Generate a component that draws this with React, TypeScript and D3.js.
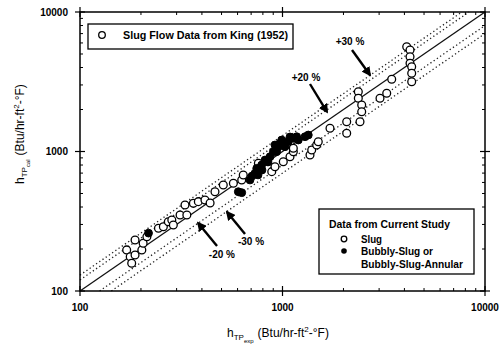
import React from 'react';
import * as d3 from 'd3';

// experimental vs calculated h_TP, Btu/hr-ft2-F
const kingExp = [170, 177, 180, 187, 187, 202, 205, 214, 244, 258, 273, 284, 289, 312, 337, 330, 363, 384, 414, 439, 464, 510, 572, 629, 640, 760, 885, 918, 1009, 1089, 1131, 1131, 1367, 1394, 1475, 1502, 1716, 2075, 2075, 2414, 2368, 2368, 2461, 2461, 3030, 3271, 3462, 4106, 4263, 4263, 4263, 4345, 4345, 4345];
const kingCal = [197, 176, 158, 232, 181, 197, 220, 245, 282, 289, 314, 323, 297, 351, 351, 414, 425, 437, 449, 427, 515, 575, 592, 625, 679, 823, 717, 778, 845, 918, 997, 1054, 944, 1025, 1113, 1176, 1467, 1636, 1350, 1636, 2683, 2407, 2154, 1929, 2407, 2614, 3293, 5640, 5341, 4782, 4289, 4055, 3636, 3165];

const bubblyExp = [218, 605, 629, 691, 731, 746, 789, 820, 868, 901, 954, 972, 1029, 1068, 1131, 1175, 991, 1197, 1292, 1341, 936, 792, 848, 707, 757, 918, 1089];
const bubblyCal = [260, 515, 507, 625, 698, 758, 800, 869, 918, 997, 1082, 1145, 1082, 1176, 1243, 1277, 1209, 1209, 1277, 1313, 997, 737, 841, 667, 679, 1113, 1271];

const bandFactors = [1.3, 1.2, 0.8, 0.7];
const ticksMajor = [100, 1000, 10000];

const noteLabels = ['+30 %', '+20 %', '-20 %', '-30 %'];
const noteTextX = [2154, 1306, 502, 699];
const noteTextY = [6194, 3365, 184, 225];
const noteFromX = [2204, 1367, 475, 653];
const noteFromY = [5341, 3047, 210, 256];
const noteToX = [2704, 1659, 383, 532];
const noteToY = [3535, 1920, 307, 368];

const W = 501;
const H = 344;
const font = '"Liberation Sans", Arial, sans-serif';

export default function App() {
  const x = d3.scaleLog().domain([100, 10000]).range([80, 485]);
  const y = d3.scaleLog().domain([100, 10000]).range([291, 12]);
  const minor = x.ticks().filter(t => !ticksMajor.includes(t));
  const line = d3.line<number>().x(v => x(v)).y(v => y(v));
  const xs = [100, 10000];

  const band = (f: number) => {
    const x0 = Math.max(100, 100 / f);
    const x1 = Math.min(10000, 10000 / f);
    return `M${x(x0)},${y(x0 * f)}L${x(x1)},${y(x1 * f)}`;
  };

  return (
    <svg width={W} height={H} style={{ position: 'absolute', left: 0, top: 0, background: '#fff' }} fontFamily={font}>
      <defs>
        <marker id="ah" viewBox="0 0 10 10" refX="8" refY="5" markerWidth="4" markerHeight="4" orient="auto" markerUnits="strokeWidth">
          <path d="M0,0L10,5L0,10z" fill="#000" />
        </marker>
      </defs>

      {/* reference lines */}
      <path d={line(xs) ?? ''} stroke="#111" strokeWidth={1.3} fill="none" />
      {bandFactors.map(f => (
        <path key={f} d={band(f)} stroke="#222" strokeWidth={1.3} strokeDasharray="1.3 2.6" fill="none" />
      ))}

      {/* frame */}
      <rect x={80} y={12} width={405} height={279} fill="none" stroke="#000" strokeWidth={1.5} />

      {/* ticks */}
      {minor.map(t => (
        <g key={'m' + t} stroke="#000" strokeWidth={1}>
          <line x1={x(t)} x2={x(t)} y1={291} y2={288} />
          <line x1={x(t)} x2={x(t)} y1={12} y2={15} />
          <line y1={y(t)} y2={y(t)} x1={80} x2={83} />
          <line y1={y(t)} y2={y(t)} x1={485} x2={482} />
        </g>
      ))}
      {ticksMajor.map(t => (
        <g key={'M' + t} stroke="#000" strokeWidth={1.2}>
          <line x1={x(t)} x2={x(t)} y1={296} y2={286} />
          <line x1={x(t)} x2={x(t)} y1={7} y2={17} />
          <line y1={y(t)} y2={y(t)} x1={75} x2={85} />
          <line y1={y(t)} y2={y(t)} x1={480} x2={490} />
        </g>
      ))}

      {/* tick labels */}
      {ticksMajor.map(t => (
        <text key={'yl' + t} x={68} y={y(t)} dy="0.35em" textAnchor="end" fontSize={10} fontWeight="bold">{t}</text>
      ))}
      {ticksMajor.map(t => (
        <text key={'xl' + t} x={x(t)} y={307} dy="0.35em" textAnchor="middle" fontSize={10} fontWeight="bold">{t}</text>
      ))}

      {/* data */}
      {kingExp.map((v, i) => (
        <circle key={'k' + i} cx={x(v)} cy={y(kingCal[i])} r={3.9} fill="#fff" stroke="#000" strokeWidth={1.3} />
      ))}
      {bubblyExp.map((v, i) => (
        <circle key={'b' + i} cx={x(v)} cy={y(bubblyCal[i])} r={3.9} fill="#000" stroke="#000" strokeWidth={1} />
      ))}

      {/* annotations */}
      {noteLabels.map((s, i) => (
        <g key={s}>
          <line x1={x(noteFromX[i])} y1={y(noteFromY[i])} x2={x(noteToX[i])} y2={y(noteToY[i])} stroke="#000" strokeWidth={2.4} markerEnd="url(#ah)" />
          <text x={x(noteTextX[i])} y={y(noteTextY[i])} dy="0.35em" textAnchor="middle" fontSize={10} fontWeight="bold">{s}</text>
        </g>
      ))}

      {/* legend: King */}
      <rect x={88} y={24} width={205} height={25} fill="#fff" stroke="#000" strokeWidth={1.3} />
      <circle cx={102} cy={35} r={3.3} fill="#fff" stroke="#000" strokeWidth={1.3} />
      <text x={123} y={39} fontSize={10.5} fontWeight="bold" textLength={165} lengthAdjust="spacingAndGlyphs">Slug Flow Data from King (1952)</text>

      {/* legend: current study */}
      <rect x={319} y={209} width={155} height={65} fill="#fff" stroke="#000" strokeWidth={1.3} />
      <text x={329} y={228} fontSize={10.5} fontWeight="bold" textLength={121} lengthAdjust="spacingAndGlyphs">Data from Current Study</text>
      <circle cx={344} cy={239} r={2.8} fill="#fff" stroke="#000" strokeWidth={1.3} />
      <text x={361} y={242.5} fontSize={10.5} fontWeight="bold" textLength={21} lengthAdjust="spacingAndGlyphs">Slug</text>
      <circle cx={344} cy={251} r={2.8} fill="#000" />
      <text x={361} y={255} fontSize={10.5} fontWeight="bold" textLength={72} lengthAdjust="spacingAndGlyphs">Bubbly-Slug or</text>
      <text x={361} y={268} fontSize={10.5} fontWeight="bold" textLength={102} lengthAdjust="spacingAndGlyphs">Bubbly-Slug-Annular</text>

      {/* axis titles */}
      <text x={227} y={337} fontSize={12}>
        h<tspan fontSize={8} dy={3}>TP</tspan><tspan fontSize={6} dy={3}>exp</tspan>
        <tspan fontSize={12} dy={-6} dx={4}>(Btu/hr-ft</tspan><tspan fontSize={8} dy={-5}>2</tspan><tspan fontSize={12} dy={5}>-°F)</tspan>
      </text>
      <text transform="translate(24,184) rotate(-90)" x={0} y={0} fontSize={12}>
        h<tspan fontSize={8} dy={3}>TP</tspan><tspan fontSize={6} dy={3}>cal</tspan>
        <tspan fontSize={12} dy={-6} dx={4}>(Btu/hr-ft</tspan><tspan fontSize={8} dy={-5}>2</tspan><tspan fontSize={12} dy={5}>-°F)</tspan>
      </text>
    </svg>
  );
}
